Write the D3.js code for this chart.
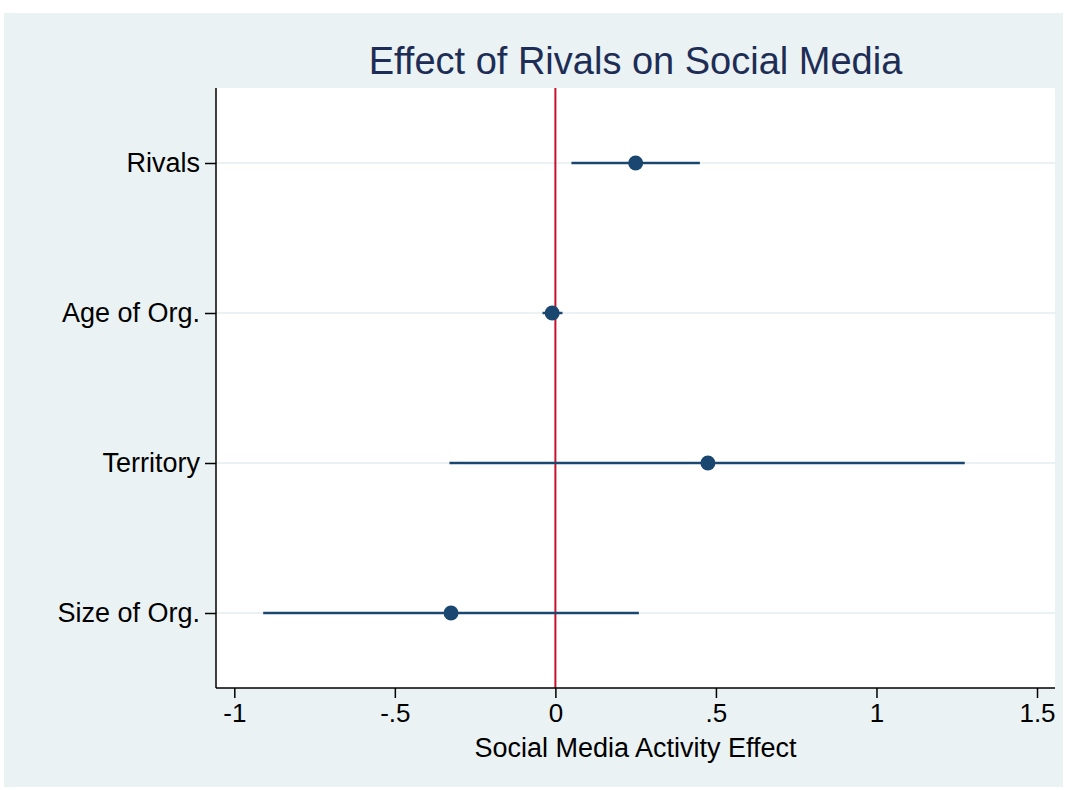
<!DOCTYPE html>
<html>
<head>
<meta charset="utf-8">
<script src="https://cdn.jsdelivr.net/npm/d3@7"></script>
<style>
  body { margin: 0; background: #fff; }
  text { font-family: "Liberation Sans", Arial, sans-serif; }
</style>
</head>
<body>
<svg id="chart" width="1067" height="790"></svg>
<script>
// coefficient estimates with 95% intervals
const categories = ['Rivals', 'Age of Org.', 'Territory', 'Size of Org.']
const estimates = [0.25, -0.01, 0.475, -0.325]
const lowerCI = [0.05, -0.04, -0.33, -0.91]
const upperCI = [0.45, 0.022, 1.275, 0.26]
const xTicks = [-1, -0.5, 0, 0.5, 1, 1.5]

const data = categories.map((c, i) => ({
  category: c, est: estimates[i], lo: lowerCI[i], hi: upperCI[i]
}))

const svg = d3.select('#chart')
const width = 1067, height = 790
const margin = {top: 88, right: 12, bottom: 102, left: 216}
const font = '"Liberation Sans", Arial, sans-serif'

// outer graph region
svg.append('rect')
  .attr('x', 4).attr('y', 13)
  .attr('width', 1059).attr('height', 774)
  .attr('fill', '#eaf2f3')

// plot region
svg.append('rect')
  .attr('x', margin.left).attr('y', margin.top)
  .attr('width', width - margin.left - margin.right)
  .attr('height', height - margin.top - margin.bottom)
  .attr('fill', '#ffffff')

const x = d3.scaleLinear()
  .domain([-1.057, 1.556])
  .range([margin.left, width - margin.right])

const y = d3.scalePoint()
  .domain(categories)
  .range([margin.top, height - margin.bottom])
  .padding(0.5)

// horizontal gridlines
svg.append('g')
  .selectAll('line')
  .data(categories)
  .enter().append('line')
  .attr('x1', margin.left).attr('x2', width - margin.right)
  .attr('y1', d => y(d)).attr('y2', d => y(d))
  .attr('stroke', '#eaf2f3')
  .attr('stroke-width', 2)

// reference line at zero
svg.append('line')
  .attr('x1', x(0)).attr('x2', x(0))
  .attr('y1', margin.top).attr('y2', height - margin.bottom)
  .attr('stroke', '#c8102e')
  .attr('stroke-width', 2)

// confidence intervals
svg.append('g')
  .selectAll('line')
  .data(data)
  .enter().append('line')
  .attr('x1', d => x(d.lo)).attr('x2', d => x(d.hi))
  .attr('y1', d => y(d.category)).attr('y2', d => y(d.category))
  .attr('stroke', '#1a476f')
  .attr('stroke-width', 2.5)

// point estimates
svg.append('g')
  .selectAll('circle')
  .data(data)
  .enter().append('circle')
  .attr('cx', d => x(d.est))
  .attr('cy', d => y(d.category))
  .attr('r', 7.5)
  .attr('fill', '#1a476f')

// stata style tick labels: -.5, .5
const fmtTick = d => String(d).replace(/^(-?)0\./, '$1.')

// x axis
const xAxis = svg.append('g')
  .attr('transform', `translate(0, ${height - margin.bottom})`)
  .call(d3.axisBottom(x)
    .tickValues(xTicks)
    .tickSize(10)
    .tickPadding(6)
    .tickFormat(fmtTick))
xAxis.select('.domain').attr('d', `M${margin.left},0H${width - margin.right}`).attr('stroke', '#000').attr('stroke-width', 1.5)
xAxis.selectAll('.tick line').attr('stroke', '#000').attr('stroke-width', 1.5)
xAxis.selectAll('.tick text')
  .attr('font-size', 26)
  .attr('fill', '#000')
  .style('font-family', font)

// y axis
const yAxis = svg.append('g')
  .attr('transform', `translate(${margin.left}, 0)`)
  .call(d3.axisLeft(y).tickSize(11).tickPadding(5))
yAxis.select('.domain').attr('d', `M0,${margin.top}V${height - margin.bottom}`).attr('stroke', '#000').attr('stroke-width', 1.5)
yAxis.selectAll('.tick line').attr('stroke', '#000').attr('stroke-width', 1.5)
yAxis.selectAll('.tick text')
  .attr('font-size', 27)
  .attr('fill', '#000')
  .style('font-family', font)

// axis title
svg.append('text')
  .attr('x', (margin.left + width - margin.right) / 2)
  .attr('y', 757)
  .attr('text-anchor', 'middle')
  .attr('font-size', 27)
  .attr('fill', '#000')
  .text('Social Media Activity Effect')

// chart title
svg.append('text')
  .attr('x', (margin.left + width - margin.right) / 2)
  .attr('y', 74)
  .attr('text-anchor', 'middle')
  .attr('font-size', 38)
  .attr('fill', '#1e2d55')
  .text('Effect of Rivals on Social Media')
</script>
</body>
</html>
